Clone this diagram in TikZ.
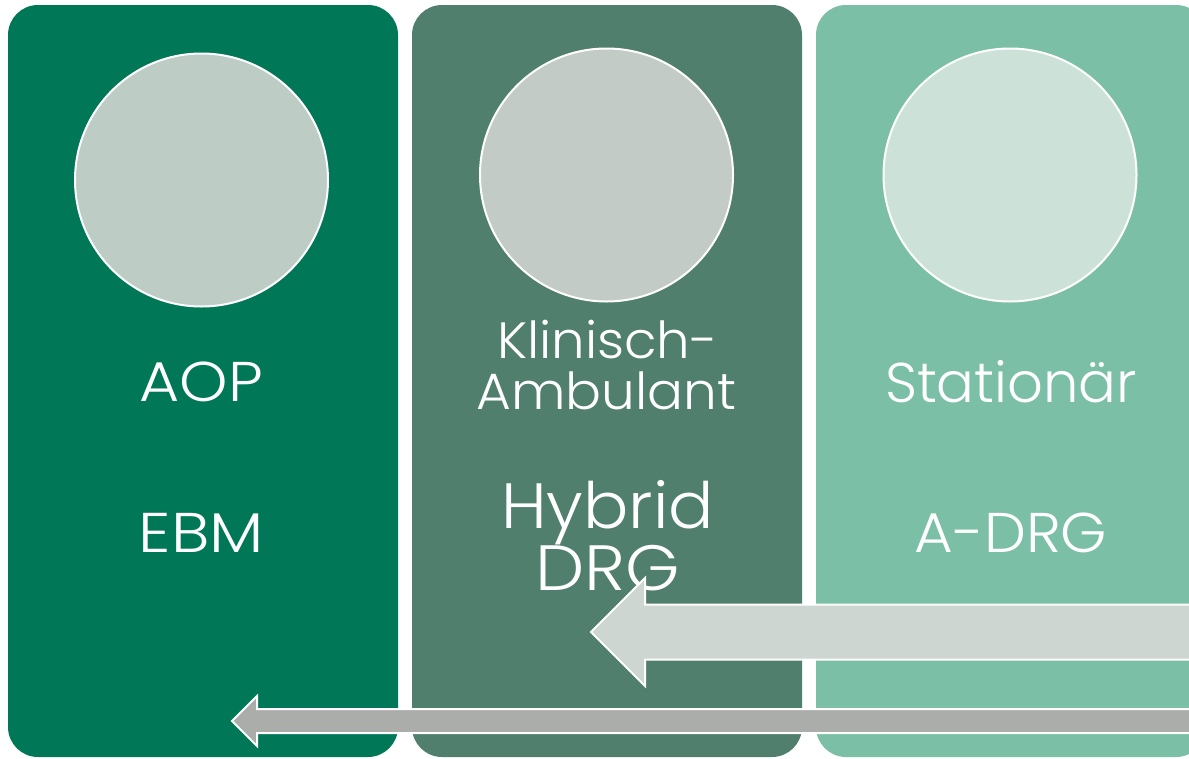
\documentclass[tikz,border=0pt]{standalone}
\usepackage{graphicx}
\usepackage{fontspec}
\setmainfont{Poppins Light}
\definecolor{boxA}{HTML}{007857}
\definecolor{boxB}{HTML}{517F6D}
\definecolor{boxC}{HTML}{7ABFA6}
\definecolor{discA}{HTML}{BDCCC4}
\definecolor{discB}{HTML}{C2CBC5}
\definecolor{discC}{HTML}{CCE2D9}
\definecolor{arrowA}{HTML}{CDD6D1}
\definecolor{arrowB}{HTML}{ABADAB}
\begin{document}
\begin{tikzpicture}[x=1pt,y=-1pt,
  panel/.style={rectangle, rounded corners=30pt, minimum width=390pt, minimum height=752pt, inner sep=0pt},
  disc/.style={circle, draw=white, line width=2pt, minimum size=253pt, inner sep=0pt},
  lbl/.style={text=white, anchor=base, inner sep=0pt},
  blockarrow/.style={draw=white, line width=2pt, line join=miter}]
\useasboundingbox (0,0) rectangle (1189,758);
\clip (0,0) rectangle (1189,758);
\node[panel, fill=boxA] (p1) at (203,381) {};
\node[panel, fill=boxB] (p2) at (607,381) {};
\node[panel, fill=boxC] (p3) at (1011,381) {};
\node[disc, fill=discA] (c1) at (201.5,180) {};
\node[disc, fill=discB] (c2) at (606.5,175) {};
\node[disc, fill=discC] (c3) at (1010,175) {};
\node[lbl, font=\fontsize{56}{56}\selectfont] (t1) at (201.5,401) {\scalebox{1.10}[1]{AOP}};
\node[lbl, font=\fontsize{56}{56}\selectfont] (t2) at (201.5,552) {\scalebox{1.15}[1]{EBM}};
\node[lbl, font=\fontsize{51}{51}\selectfont] (t3) at (607.5,358) {\scalebox{1.04}[1]{Klinisch-}};
\node[lbl, font=\fontsize{51}{51}\selectfont] (t4) at (606.5,409) {\scalebox{1.045}[1]{Ambulant}};
\node[lbl, font=\fontsize{64}{64}\selectfont] (t5) at (607.5,528) {\scalebox{1.05}[1]{Hybrid}};
\node[lbl, font=\fontsize{64}{64}\selectfont] (t6) at (607.5,590) {\scalebox{1.09}[1]{DRG}};
\node[lbl, font=\fontsize{56}{56}\selectfont] (t7) at (1011,402) {Stationär};
\node[lbl, font=\fontsize{56}{56}\selectfont] (t8) at (1011,552) {\scalebox{1.06}[1]{A-DRG}};
\draw[blockarrow, fill=arrowA] (1200,604.5) -- (645,604.5) -- (645,578) -- (591,632) -- (645,686) -- (645,659.5) -- (1200,659.5) -- cycle;
\draw[blockarrow, fill=arrowB] (1200,709) -- (257,709) -- (257,696) -- (232,721) -- (257,746) -- (257,733) -- (1200,733) -- cycle;
\end{tikzpicture}
\end{document}
